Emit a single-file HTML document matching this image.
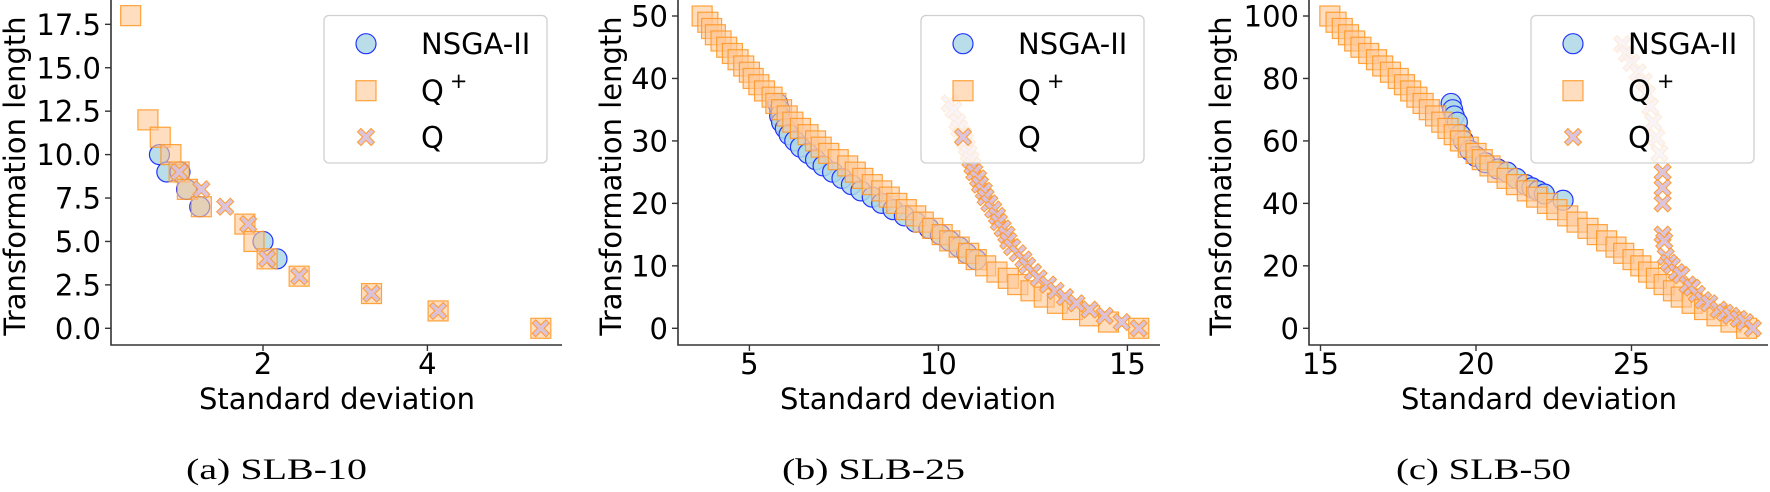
<!DOCTYPE html>
<html><head><meta charset="utf-8">
<style>
html,body{margin:0;padding:0;background:#fff;}
svg{display:block;font-family:"DejaVu Sans","Liberation Sans",sans-serif;}
</style></head>
<body>
<svg id="fig" width="1770" height="492" viewBox="0 0 1770 492" xmlns="http://www.w3.org/2000/svg"></svg>
<script>
// ---------- Panel (a) SLB-10 ----------
const aNsgaX = [0.74, 0.83, 0.99, 1.07, 1.23, 2.0, 2.17];
const aNsgaY = [10, 9, 9, 8, 7, 5, 4];
const aQpX = [0.39, 0.6, 0.75, 0.88, 0.98, 1.08, 1.25, 1.78, 1.89, 2.05, 2.44, 3.32, 4.13, 5.38];
const aQpY = [18, 12, 11, 10, 9, 8, 7, 6, 5, 4, 3, 2, 1, 0];
const aQX = [0.98, 1.25, 1.54, 1.82, 2.05, 2.44, 3.32, 4.13, 5.38];
const aQY = [9, 8, 7, 6, 4, 3, 2, 1, 0];
const aXTicks = [2, 4];
const aYTicks = [0, 2.5, 5, 7.5, 10, 12.5, 15, 17.5];
const aYTickLabels = ["0.0", "2.5", "5.0", "7.5", "10.0", "12.5", "15.0", "17.5"];

// ---------- Panel (b) SLB-25 ----------
const bNsgaX = [5.75, 5.8, 5.8, 5.85, 5.95, 6.05, 6.2, 6.35, 6.55, 6.75, 6.95, 7.2, 7.45, 7.7, 7.95, 8.25, 8.5, 8.8, 9.1, 9.4, 9.75, 10.05, 10.3, 10.55, 10.75, 11.0];
const bNsgaY = [36, 35, 34, 33, 32, 31, 30, 29, 28, 27, 26, 25, 24, 23, 22, 21, 20, 19, 18, 17, 16, 15, 14, 13, 12, 11];
const bQpX = [3.75, 3.9, 4.0, 4.1, 4.25, 4.4, 4.55, 4.7, 4.85, 5.0, 5.1, 5.25, 5.4, 5.6, 5.7, 5.85, 6.0, 6.15, 6.35, 6.55, 6.75, 6.9, 7.1, 7.35, 7.6, 7.8, 8.0, 8.25, 8.5, 8.7, 8.9, 9.15, 9.4, 9.6, 9.85, 10.1, 10.3, 10.55, 10.8, 11.0, 11.25, 11.55, 11.85, 12.1, 12.45, 12.8, 13.15, 13.55, 14.0, 14.5, 15.3];
const bQpY = [50, 49, 48, 47, 46, 45, 44, 43, 42, 41, 40, 39, 38, 37, 36, 35, 34, 33, 32, 31, 30, 29, 28, 27, 26, 25, 24, 23, 22, 21, 20, 19, 18, 17, 16, 15, 14, 13, 12, 11, 10, 9, 8, 7, 6, 5, 4, 3, 2, 1, 0];
const bQX = [10.3, 10.4, 10.5, 10.55, 10.65, 10.7, 10.75, 10.8, 10.85, 10.9, 10.95, 11.05, 11.1, 11.2, 11.25, 11.35, 11.45, 11.55, 11.6, 11.7, 11.8, 11.85, 11.95, 12.1, 12.25, 12.35, 12.5, 12.65, 12.9, 13.1, 13.35, 13.65, 14.0, 14.4, 14.85, 15.3];
const bQY = [36, 35, 33, 32, 31, 30, 29, 28, 27, 26, 25, 24, 23, 22, 21, 20, 19, 18, 17, 16, 15, 14, 13, 12, 11, 10, 9, 8, 7, 6, 5, 4, 3, 2, 1, 0];
const bXTicks = [5, 10, 15];
const bYTicks = [0, 10, 20, 30, 40, 50];
const bYTickLabels = ["0", "10", "20", "30", "40", "50"];

// ---------- Panel (c) SLB-50 ----------
const cNsgaX = [19.2, 19.25, 19.3, 19.4, 19.5, 19.6, 19.8, 20.0, 20.3, 20.7, 21.0, 21.3, 21.6, 21.8, 22.0, 22.2, 22.8];
const cNsgaY = [72, 70, 68, 66, 62, 60, 57, 55, 53, 51, 50, 48, 46, 45, 44, 43, 41];
const cQpX = [15.3, 15.5, 15.7, 15.9, 16.1, 16.3, 16.55, 16.8, 17.0, 17.25, 17.5, 17.7, 17.9, 18.1, 18.3, 18.5, 18.7, 18.9, 19.1, 19.3, 19.5, 19.75, 20.0, 20.2, 20.45, 20.7, 21.0, 21.3, 21.65, 21.95, 22.3, 22.6, 22.95, 23.25, 23.6, 23.9, 24.2, 24.5, 24.75, 25.05, 25.3, 25.55, 25.8, 26.05, 26.35, 26.6, 26.95, 27.35, 27.75, 28.2, 28.7];
const cQpY = [100, 98, 96, 94, 92, 90, 88, 86, 84, 82, 80, 78, 76, 74, 72, 70, 68, 66, 64, 62, 60, 58, 56, 54, 52, 50, 48, 46, 44, 42, 40, 38, 36, 34, 32, 30, 28, 26, 24, 22, 20, 18, 16, 14, 12, 10, 8, 6, 4, 2, 0];
const cQX = [24.7, 24.85, 25.0, 25.2, 25.4, 25.5, 25.6, 25.7, 25.8, 25.9, 26.0, 26.0, 26.0, 26.0, 26.05, 26.1, 26.2, 26.3, 26.45, 26.6, 26.8, 26.95, 27.1, 27.3, 27.5, 27.8, 28.0, 28.2, 28.45, 28.65, 28.9];
const cQY = [91, 88, 85, 82, 79, 75, 71, 66, 61, 56, 50, 45, 40, 30, 28, 23, 21, 20, 18, 17, 14, 13, 11, 9, 8, 6, 5, 4, 3, 2, 0];
const cXTicks = [15, 20, 25];
const cYTicks = [0, 20, 40, 60, 80, 100];
const cYTickLabels = ["0", "20", "40", "60", "80", "100"];

const NS = "http://www.w3.org/2000/svg";
const svg = document.getElementById("fig");
function mk(tag, attrs, parent) {
  const e = document.createElementNS(NS, tag);
  for (const k in attrs) e.setAttribute(k, attrs[k]);
  (parent || svg).appendChild(e);
  return e;
}
function xPath(cx, cy, s) {
  const a = s * 0.5, b = s * 0.2;
  const pts = [[0,-b],[a-b,-a],[a,-a+b],[b,0],[a,a-b],[a-b,a],[0,b],[-a+b,a],[-a,a-b],[-b,0],[-a,-a+b],[-a+b,-a]];
  return "M" + pts.map(p => (cx + p[0]).toFixed(1) + "," + (cy + p[1]).toFixed(1)).join("L") + "Z";
}
function drawCircle(g, x, y) {
  const c = mk("circle", {cx: x, cy: y, r: 10, fill: "#add8e6", "fill-opacity": 0.85, stroke: "#2233ff", "stroke-width": 1.2}, g);
  
  
}
function drawSquare(g, x, y) {
  const r = mk("rect", {x: x - 10, y: y - 10, width: 20, height: 20, fill: "#ffc794", "fill-opacity": 0.6, stroke: "#ff9520", "stroke-opacity": 0.85, "stroke-width": 1.2}, g);
  
  
}
function drawX(g, x, y) {
  const p = mk("path", {d: xPath(x, y, 17), fill: "#d8bfd8", "fill-opacity": 0.9, stroke: "#ff9a30", "stroke-width": 1}, g);
  
  
}

function panel(cfg) {
  const g = mk("g", {});
  
  
  const sx = v => cfg.x0 + v * cfg.xs;
  const sy = v => cfg.y0 - v * cfg.ys;
  const clipId = cfg.name + "-clip";
  const cp = mk("clipPath", {id: clipId}, g);
  mk("rect", {x: cfg.left, y: 0, width: cfg.right - cfg.left, height: cfg.bottom}, cp);
  const data = mk("g", {"clip-path": "url(#" + clipId + ")"}, g);
  
  
  cfg.nX.forEach((v, i) => drawCircle(data, sx(v), sy(cfg.nY[i])));
  cfg.pX.forEach((v, i) => drawSquare(data, sx(v), sy(cfg.pY[i])));
  cfg.qX.forEach((v, i) => drawX(data, sx(v), sy(cfg.qY[i])));
  // spines
  const ax = mk("path", {d: `M${cfg.left},0 V${cfg.bottom} H${cfg.right}`, fill: "none", stroke: "#333", "stroke-width": 1.6}, g);
  
  
  // x ticks
  cfg.xt.forEach(v => {
    const x = sx(v);
    mk("line", {x1: x, y1: cfg.bottom, x2: x, y2: cfg.bottom + 6, stroke: "#333", "stroke-width": 1.4}, g);
    const t = mk("text", {x: x, y: 374, "font-size": 29, "text-anchor": "middle", fill: "#000"}, g);
    t.textContent = String(v);
    
    
  });
  cfg.yt.forEach((v, i) => {
    const y = sy(v);
    mk("line", {x1: cfg.left - 6, y1: y, x2: cfg.left, y2: y, stroke: "#333", "stroke-width": 1.4}, g);
    const t = mk("text", {x: cfg.left - 10, y: y + 10.5, "font-size": 29, "text-anchor": "end", fill: "#000"}, g);
    t.textContent = cfg.ytl[i];
    
    
  });
  const xl = mk("text", {x: cfg.xlc, y: 409, "font-size": 29, "text-anchor": "middle", fill: "#000"}, g);
  xl.textContent = "Standard deviation";
  
  
  const yl = mk("text", {x: 0, y: 0, "font-size": 29, "text-anchor": "middle", fill: "#000", transform: `translate(${cfg.ylx},176) rotate(-90)`}, g);
  yl.textContent = "Transformation length";
  
  
  // legend
  const lg = mk("g", {}, g);
  
  
  const L = cfg.legL;
  mk("rect", {x: L, y: 15.5, width: cfg.legR - L, height: 147.5, rx: 5, fill: "#fff", "fill-opacity": 0.8, stroke: "#d0d0d0", "stroke-width": 1.3}, lg);
  const rows = [43.7, 90.7, 137];
  const e1 = mk("g", {}, lg);
  
  
  drawCircle(e1, L + 42, rows[0]);
  const t1 = mk("text", {x: L + 97, y: rows[0] + 10.5, "font-size": 29}, e1); t1.textContent = "NSGA-II";
  const e2 = mk("g", {}, lg);
  
  
  drawSquare(e2, L + 42, rows[1]);
  const t2 = mk("text", {x: L + 97, y: rows[1] + 10.5, "font-size": 29}, e2);
  t2.textContent = "Q";
  const sup = mk("tspan", {dx: 6, dy: -13, "font-size": 21}, t2); sup.textContent = "+";
  const e3 = mk("g", {}, lg);
  
  
  drawX(e3, L + 42, rows[2]);
  const t3 = mk("text", {x: L + 97, y: rows[2] + 10.5, "font-size": 29}, e3); t3.textContent = "Q";
  // caption
  const cap = mk("text", {x: cfg.capL, y: 479, "font-size": 30, "font-family": "'Liberation Serif', serif", textLength: cfg.capW, lengthAdjust: "spacingAndGlyphs"}, g);
  cap.textContent = cfg.caption;
  
  
}

panel({name: "panel-slb-10", x0: 98.6, xs: 82.2, y0: 328.3, ys: 17.37, left: 111, right: 562, bottom: 345,
  nX: aNsgaX, nY: aNsgaY, pX: aQpX, pY: aQpY, qX: aQX, qY: aQY, xt: aXTicks, yt: aYTicks, ytl: aYTickLabels,
  xlc: 337, ylx: 25, legL: 324, legR: 547, capL: 186, capW: 181, caption: "(a) SLB-10"});
panel({name: "panel-slb-25", x0: 560.4, xs: 37.8, y0: 328.3, ys: 6.246, left: 678, right: 1160, bottom: 345,
  nX: bNsgaX, nY: bNsgaY, pX: bQpX, pY: bQpY, qX: bQX, qY: bQY, xt: bXTicks, yt: bYTicks, ytl: bYTickLabels,
  xlc: 918, ylx: 621, legL: 921, legR: 1144, capL: 782, capW: 183, caption: "(b) SLB-25"});
panel({name: "panel-slb-50", x0: 854, xs: 31.1, y0: 328.3, ys: 3.123, left: 1309, right: 1768, bottom: 345,
  nX: cNsgaX, nY: cNsgaY, pX: cQpX, pY: cQpY, qX: cQX, qY: cQY, xt: cXTicks, yt: cYTicks, ytl: cYTickLabels,
  xlc: 1539, ylx: 1231, legL: 1531, legR: 1754, capL: 1396, capW: 175, caption: "(c) SLB-50"});
</script>
</body></html>
